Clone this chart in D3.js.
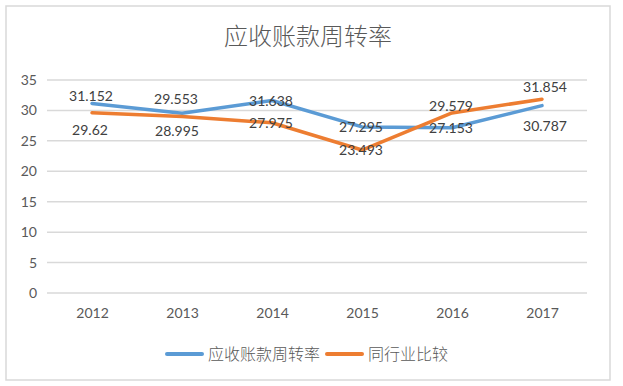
<!DOCTYPE html>
<html>
<head>
<meta charset="utf-8">
<script src="https://cdn.jsdelivr.net/npm/d3@7"></script>
<style>
  body { margin: 0; background: #fff; }
  text { font-family: Lato, "Noto Sans CJK SC", sans-serif; }
</style>
</head>
<body>
<svg id="chart" width="623" height="386"></svg>
<script>
var years = ['2012', '2013', '2014', '2015', '2016', '2017'];
var turnover = [31.152, 29.553, 31.638, 27.295, 27.153, 30.787];
var industry = [29.62, 28.995, 27.975, 23.493, 29.579, 31.854];
var yTicks = [0, 5, 10, 15, 20, 25, 30, 35];
var seriesNames = ['应收账款周转率', '同行业比较'];

// label nudges (px) as the labels sit in the original
var turnoverNudge = [[-1, -7], [-6, -14], [-1, 1], [-1, 0], [-1, 0], [3, 20]];
var industryNudge = [[-2, 17], [-5, 15], [-1, 0], [-1, 0], [-1, -7], [3, -12]];

var colors = ['#5B9BD5', '#ED7D31'];

var svg = d3.select('#chart');

svg.append('rect')
  .attr('x', 6).attr('y', 6)
  .attr('width', 604).attr('height', 374)
  .attr('fill', '#fff')
  .attr('stroke', '#D9D9D9')
  .attr('stroke-width', 1.5);

svg.append('text')
  .attr('x', 308).attr('y', 37)
  .attr('dy', '0.35em')
  .attr('text-anchor', 'middle')
  .attr('fill', '#595959')
  .style('font-family', '"Noto Sans CJK SC", sans-serif')
  .style('font-weight', 300)
  .style('font-size', '24px')
  .text(seriesNames[0]);

var x = d3.scalePoint().domain(years).range([92, 542]);
var y = d3.scaleLinear().domain([0, 35]).range([293, 80]);

var grid = svg.append('g');
grid.selectAll('line')
  .data(yTicks)
  .enter()
  .append('line')
  .attr('x1', 47).attr('x2', 587)
  .attr('y1', function (d) { return y(d); })
  .attr('y2', function (d) { return y(d); })
  .attr('stroke', '#D9D9D9')
  .attr('stroke-width', 1.5);

var yAxis = svg.append('g')
  .attr('transform', 'translate(37,0)')
  .call(d3.axisLeft(y).tickValues(yTicks).tickSize(0).tickPadding(0));
yAxis.select('.domain').remove();
yAxis.selectAll('text')
  .attr('fill', '#595959')
  .style('font-family', 'Lato, sans-serif')
  .style('font-size', '14px');

var xAxis = svg.append('g')
  .attr('transform', 'translate(0,308)')
  .call(d3.axisBottom(x).tickSize(0).tickPadding(0));
xAxis.select('.domain').remove();
xAxis.selectAll('text')
  .attr('fill', '#595959')
  .style('font-family', 'Lato, sans-serif')
  .style('font-size', '14px');

var line = d3.line()
  .x(function (d, i) { return x(years[i]); })
  .y(function (d) { return y(d); });

var series = [
  { values: turnover, nudge: turnoverNudge },
  { values: industry, nudge: industryNudge }
];

series.forEach(function (s, k) {
  svg.append('path')
    .datum(s.values)
    .attr('d', line)
    .attr('fill', 'none')
    .attr('stroke', colors[k])
    .attr('stroke-width', 3.5)
    .attr('stroke-linejoin', 'round')
    .attr('stroke-linecap', 'round');
});

series.forEach(function (s) {
  svg.append('g').selectAll('text')
    .data(s.values)
    .enter()
    .append('text')
    .attr('x', function (d, i) { return x(years[i]) + s.nudge[i][0]; })
    .attr('y', function (d, i) { return y(d) + s.nudge[i][1]; })
    .attr('dy', '0.35em')
    .attr('text-anchor', 'middle')
    .attr('fill', '#404040')
    .style('font-size', '14px')
    .text(function (d) { return d; });
});

var legend = svg.append('g');
var legendX = [165, 325];
seriesNames.forEach(function (name, k) {
  legend.append('line')
    .attr('x1', legendX[k] + 2).attr('x2', legendX[k] + 37)
    .attr('y1', 354).attr('y2', 354)
    .attr('stroke', colors[k])
    .attr('stroke-width', 4)
    .attr('stroke-linecap', 'round');
  legend.append('text')
    .attr('x', legendX[k] + 43).attr('y', 354)
    .attr('dy', '0.35em')
    .attr('fill', '#595959')
    .style('font-family', '"Noto Sans CJK SC", sans-serif')
    .style('font-weight', 300)
    .style('font-size', '16px')
    .text(name);
});
</script>
</body>
</html>
